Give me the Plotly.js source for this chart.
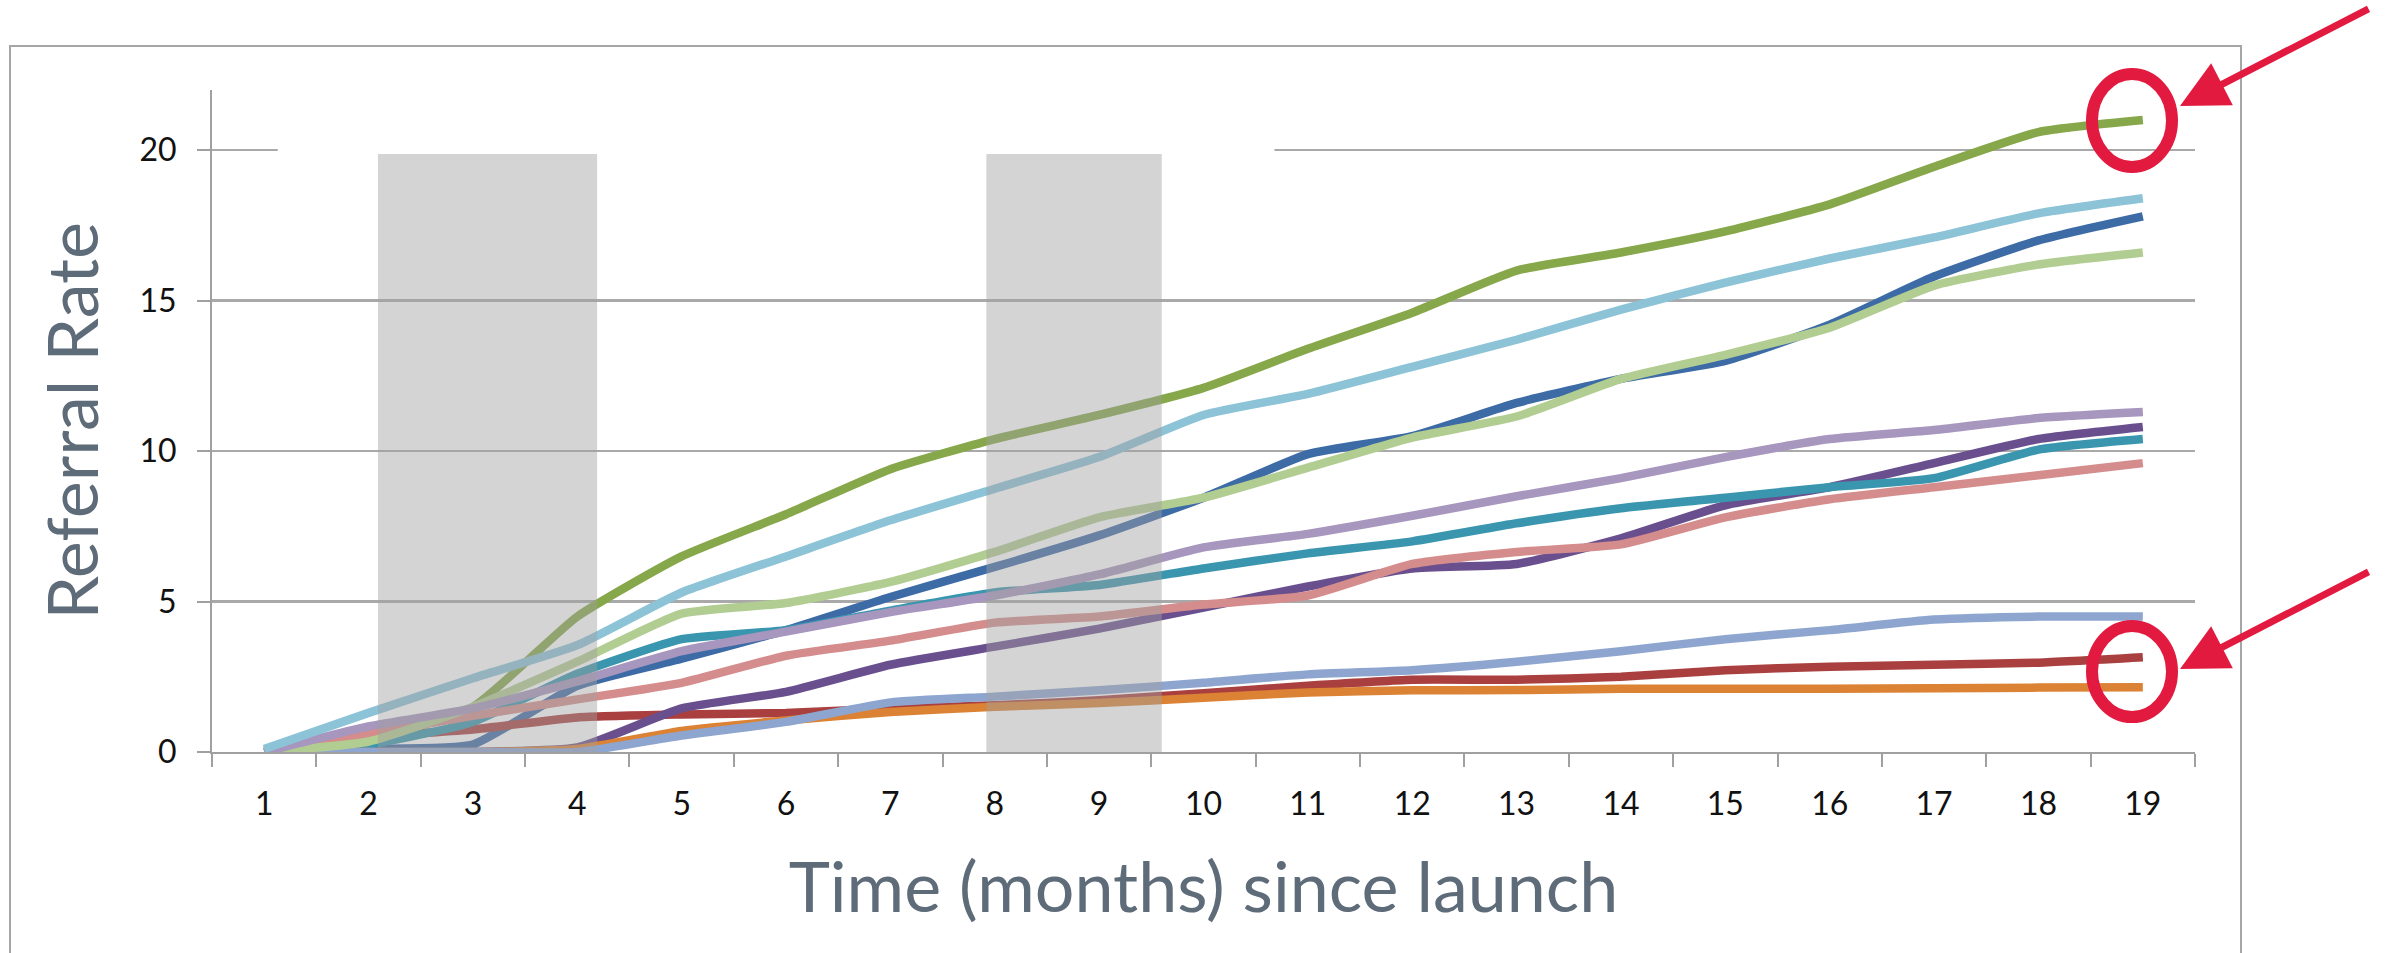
<!DOCTYPE html>
<html>
<head>
<meta charset="utf-8">
<script src="https://cdn.plot.ly/plotly-3.0.1.min.js"></script>
<style>
  html, body { margin: 0; padding: 0; background: #ffffff; }
  #chart { width: 2387px; height: 953px; }
</style>
</head>
<body>
<div id="chart"></div>
<script>
// ---- data ----
const months = ["1","2","3","4","5","6","7","8","9","10","11","12","13","14","15","16","17","18","19"];

const seriesBlue        = [0, 0.1, 0.25, 2.2, 3.1, 4.05, 5.15, 6.15, 7.2, 8.45, 9.9, 10.5, 11.6, 12.4, 13.0, 14.2, 15.8, 17.0, 17.8];
const seriesDarkRed     = [0, 0.5, 0.75, 1.15, 1.25, 1.3, 1.45, 1.55, 1.72, 1.95, 2.2, 2.4, 2.4, 2.5, 2.72, 2.83, 2.9, 2.97, 3.15];
const seriesGreen       = [0, 0.4, 1.5, 4.5, 6.5, 7.9, 9.4, 10.4, 11.2, 12.1, 13.4, 14.6, 16.0, 16.6, 17.3, 18.2, 19.45, 20.6, 21.0];
const seriesPurple      = [0, 0, 0, 0.15, 1.45, 2.0, 2.9, 3.5, 4.1, 4.8, 5.5, 6.1, 6.25, 7.1, 8.2, 8.8, 9.6, 10.4, 10.8];
const seriesTeal        = [0, 0.25, 1.0, 2.6, 3.75, 4.05, 4.7, 5.3, 5.55, 6.1, 6.6, 7.0, 7.6, 8.1, 8.45, 8.8, 9.1, 10.05, 10.4];
const seriesOrange      = [0, 0, 0, 0.1, 0.7, 1.05, 1.33, 1.5, 1.63, 1.8, 1.98, 2.05, 2.06, 2.1, 2.1, 2.1, 2.12, 2.14, 2.15];
const seriesLightBlue   = [0, 0, 0, 0, 0.55, 1.0, 1.65, 1.84, 2.05, 2.3, 2.58, 2.72, 3.0, 3.35, 3.75, 4.05, 4.4, 4.5, 4.5];
const seriesPink        = [0, 0.6, 1.2, 1.75, 2.3, 3.2, 3.7, 4.3, 4.5, 4.9, 5.2, 6.25, 6.65, 6.9, 7.8, 8.4, 8.8, 9.2, 9.6];
const seriesLightGreen  = [0, 0.35, 1.5, 3.0, 4.6, 4.95, 5.65, 6.65, 7.8, 8.45, 9.45, 10.45, 11.15, 12.4, 13.2, 14.1, 15.5, 16.2, 16.6];
const seriesLightPurple = [0, 0.85, 1.45, 2.35, 3.35, 4.0, 4.65, 5.2, 5.9, 6.8, 7.25, 7.85, 8.5, 9.1, 9.8, 10.4, 10.7, 11.1, 11.3];
const seriesSky         = [0.1, 1.3, 2.45, 3.55, 5.3, 6.5, 7.7, 8.75, 9.8, 11.2, 11.9, 12.8, 13.7, 14.7, 15.6, 16.4, 17.1, 17.9, 18.4];

const yTickVals = [0, 5, 10, 15, 20];
const yTickText = ["0", "5", "10", "15", "20"];

// ---- styling ----
const seriesList = [
  {name: "Series 1",  y: seriesBlue,        color: "#3d6ba6"},
  {name: "Series 2",  y: seriesDarkRed,     color: "#a9403f"},
  {name: "Series 3",  y: seriesGreen,       color: "#86a84a"},
  {name: "Series 4",  y: seriesPurple,      color: "#6a4f8e"},
  {name: "Series 5",  y: seriesTeal,        color: "#3a96ae"},
  {name: "Series 6",  y: seriesOrange,      color: "#dc8234"},
  {name: "Series 7",  y: seriesLightBlue,   color: "#8ea6cf"},
  {name: "Series 8",  y: seriesPink,        color: "#d48c8c"},
  {name: "Series 9",  y: seriesLightGreen,  color: "#b2cd92"},
  {name: "Series 10", y: seriesLightPurple, color: "#a796be"},
  {name: "Series 11", y: seriesSky,         color: "#8cc3d7"}
];

const traces = seriesList.map(s => ({
  type: "scatter",
  mode: "lines",
  name: s.name,
  x: months,
  y: s.y,
  line: {color: s.color, width: 8.5, shape: "spline", smoothing: 0.5},
  hoverinfo: "x+y+name"
}));

// pixel helpers for decorations
const W = 2387, H = 953;
const L = 212, R = 2195, T = 90, B = 752;
const px = v => (v - L) / (R - L);
const py = v => (B - v) / (B - T);
const red = "#e31a3f";

const shapes = [
  // outer frame
  {type: "rect", xref: "paper", yref: "paper", x0: px(10), x1: px(2241), y0: py(1000), y1: py(46),
   line: {color: "#a6a6a6", width: 2}, fillcolor: "rgba(0,0,0,0)", layer: "below"},
  // white patch hiding top gridline
  {type: "rect", xref: "x", yref: "y", x0: 0.13, x1: 9.68, y0: 19.88, y1: 20.25,
   line: {width: 0}, fillcolor: "#ffffff", layer: "above"},
  // shaded periods
  {type: "rect", xref: "x", yref: "y", x0: 1.09, x1: 3.19, y0: -0.17, y1: 19.87,
   line: {width: 0}, fillcolor: "rgba(160,160,160,0.45)", layer: "above"},
  {type: "rect", xref: "x", yref: "y", x0: 6.92, x1: 8.60, y0: -0.17, y1: 19.87,
   line: {width: 0}, fillcolor: "rgba(160,160,160,0.45)", layer: "above"},
  // red circles
  {type: "circle", xref: "paper", yref: "paper", x0: px(2092), x1: px(2172), y0: py(167), y1: py(74),
   line: {color: red, width: 12}, fillcolor: "rgba(0,0,0,0)", layer: "above"},
  {type: "circle", xref: "paper", yref: "paper", x0: px(2092), x1: px(2172), y0: py(717), y1: py(626),
   line: {color: red, width: 12}, fillcolor: "rgba(0,0,0,0)", layer: "above"}
];

const titleColor = "#5e6b79";
const fontFam = "Lato, 'Open Sans', sans-serif";

const annotations = [
  {xref: "paper", yref: "paper", x: px(2180), y: py(106), text: "", showarrow: true,
   ax: 190, ay: -98, arrowcolor: red, arrowwidth: 7, arrowhead: 2, arrowsize: 1.35, standoff: 0},
  {xref: "paper", yref: "paper", x: px(2180), y: py(669), text: "", showarrow: true,
   ax: 190, ay: -98, arrowcolor: red, arrowwidth: 7, arrowhead: 2, arrowsize: 1.35, standoff: 0}
];

const layout = {
  width: W, height: H,
  margin: {l: L, r: W - R, t: T, b: H - B, pad: 0},
  paper_bgcolor: "#ffffff",
  plot_bgcolor: "#ffffff",
  showlegend: false,
  font: {family: fontFam, color: "#111111"},
  xaxis: {
    type: "category",
    range: [-0.5, 18.5],
    tickson: "boundaries",
    ticks: "outside", ticklen: 13, tickwidth: 2, tickcolor: "#a0a0a0",
    showline: true, linecolor: "#a0a0a0", linewidth: 2,
    showgrid: false, zeroline: false,
    tickfont: {family: fontFam, size: 32, color: "#111111"},
    ticklabelstandoff: 23,
    title: {text: "Time (months) since launch", font: {family: fontFam, size: 70, color: titleColor}, standoff: 42},
    automargin: false, fixedrange: true
  },
  yaxis: {
    range: [0, 22],
    tickvals: yTickVals, ticktext: yTickText,
    ticks: "outside", ticklen: 13, tickwidth: 2, tickcolor: "#a0a0a0",
    showline: true, linecolor: "#a0a0a0", linewidth: 2,
    showgrid: true, gridcolor: "#a9a9a9", gridwidth: 2.5,
    zeroline: false,
    tickfont: {family: fontFam, size: 32, color: "#111111"},
    ticklabelstandoff: 14,
    title: {text: "Referral Rate", font: {family: fontFam, size: 70, color: titleColor}, standoff: 18},
    automargin: false, fixedrange: true
  },
  shapes: shapes,
  annotations: annotations
};

Plotly.newPlot("chart", traces, layout, {displayModeBar: false, staticPlot: true});
</script>
</body>
</html>
